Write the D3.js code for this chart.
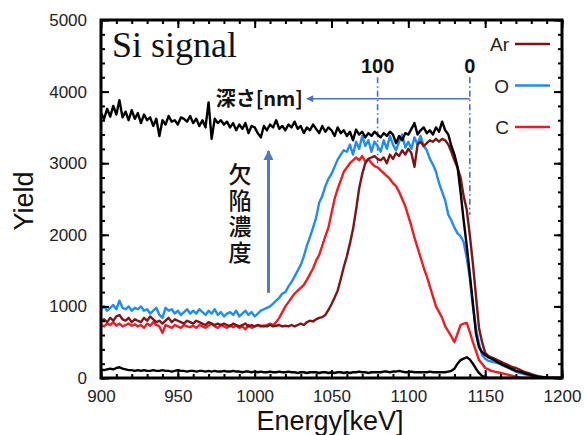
<!DOCTYPE html>
<html><head><meta charset="utf-8">
<script src="https://cdn.jsdelivr.net/npm/d3@7/dist/d3.min.js"></script>
<style>body{margin:0;background:#fff}svg{display:block}</style>
</head><body><svg id="c" width="584" height="435"></svg>
<script>
// Energy sampling (keV), 2 keV step
const energy = d3.range(900, 1201, 2);

// Si signal, upper black spectrum
const black = [
3700,3620,3760,3650,3800,3680,3880,3640,3720,3600,
3740,3620,3700,3560,3680,3600,3640,3520,3620,3380,
3600,3540,3660,3580,3600,3540,3640,3620,3580,3660,
3560,3620,3520,3600,3500,3850,3340,3620,3560,3600,
3540,3580,3500,3560,3460,3540,3480,3560,3420,3520,
3500,3420,3360,3520,3460,3540,3500,3600,3480,3520,
3460,3540,3500,3580,3480,3520,3420,3500,3460,3540,
3480,3420,3520,3440,3500,3460,3380,3500,3420,3460,
3380,3440,3320,3470,3400,3440,3360,3420,3380,3440,
3400,3360,3420,3380,3440,3400,3280,3380,3320,3420,
3400,3480,3560,3400,3460,3500,3420,3460,3400,3500,
3440,3580,3460,3400,3240,3120,2950,2600,2200,1850,
1450,1050,620,430,360,320,290,270,250,220,
200,180,160,140,120,100,90,80,60,50,
40,30,20,15,10,5,0,0,0,0,
0];

// lower black spectrum
const blackLow = [
120,110,120,130,120,140,150,130,120,110,
110,100,110,100,110,100,100,110,100,100,
110,100,100,90,100,110,100,100,90,100,
100,90,100,100,90,100,90,100,90,90,
100,90,90,100,90,90,80,90,90,80,
90,80,90,80,80,90,80,80,90,80,
80,90,80,80,70,80,80,70,80,80,
80,70,80,80,70,80,70,80,80,70,
80,70,80,80,90,80,80,70,80,80,
80,80,90,90,80,90,90,100,90,80,
80,90,80,80,80,80,80,90,80,80,
80,80,80,90,100,130,200,250,270,290,
260,200,130,70,30,10,0,0,0,0,
0,0,0,0,0,0,0,0,0,0,
0,0,0,0,0,0,0,0,0,0,
0];

// O
const oxygen = [
960,1000,940,980,1020,960,1080,980,960,1000,
940,980,960,1000,940,960,900,940,980,880,
840,980,940,960,900,940,880,920,960,900,
940,900,960,920,880,940,900,960,880,920,
860,900,920,880,940,860,900,940,880,920,
860,900,940,960,980,1000,1040,1080,1120,1180,
1200,1280,1340,1420,1500,1580,1700,1850,1970,2100,
2240,2450,2540,2680,2780,2850,2950,3050,3120,3180,
3160,3260,3120,3300,3200,3380,3240,3320,3160,3300,
3240,3160,3320,3200,3380,3260,3180,3300,3400,3220,
3300,3200,3360,3260,3380,3240,3180,3060,2980,2880,
2720,2600,2480,2280,2200,2100,2020,1980,1900,1680,
1400,1000,700,480,320,270,240,230,220,210,
190,170,150,130,110,90,70,60,50,40,
30,20,10,5,0,0,0,0,0,0,
0];

// C
const carbon = [
740,720,760,740,780,730,760,720,740,760,
730,750,720,740,700,760,730,780,740,720,
630,740,720,700,740,720,700,740,720,710,
730,700,740,720,700,730,760,720,700,740,
720,700,740,710,730,700,720,680,740,700,
720,740,730,720,740,760,740,780,840,920,
1000,1060,1120,1180,1220,1260,1300,1370,1450,1530,
1640,1720,1850,1980,2100,2300,2500,2640,2760,2880,
2940,3000,3040,3080,3040,3100,3020,3060,3000,2960,
2940,2900,2860,2820,2780,2720,2680,2600,2500,2400,
2260,2120,1960,1820,1680,1540,1420,1280,1140,1000,
920,840,720,650,580,500,620,740,760,770,
640,500,380,250,200,140,120,100,90,80,
70,60,50,40,30,20,10,0,0,0,
0,0,0,0,0,0,0,0,0,0,
0];

// Ar
const argon = [
800,820,780,840,800,860,880,820,800,840,
780,820,800,780,840,800,860,820,780,800,
760,800,840,780,820,800,780,760,800,780,
760,800,780,760,740,780,760,740,760,740,
760,740,720,760,740,720,740,760,720,740,
720,740,720,730,720,740,720,730,740,720,
730,720,740,720,740,760,740,780,800,790,
820,840,850,880,950,1030,1120,1220,1380,1550,
1700,1880,2080,2350,2650,2850,3000,3060,3080,3100,
3060,3040,3080,3000,3120,3060,3140,3100,3180,3120,
3200,3140,2950,3260,3300,3240,3280,3320,3300,3340,
3300,3340,3320,3260,3160,3040,2940,2800,2540,2350,
2000,1600,1150,700,500,350,310,290,270,250,
230,210,190,170,150,140,120,100,80,70,
55,40,30,20,10,5,0,0,0,0,
0];

const xMajor = [900,950,1000,1050,1100,1150,1200];
const xMinor = d3.range(900, 1201, 10);
const yMajor = [0,1000,2000,3000,4000,5000];
const yMinor = d3.range(0, 5001, 200);

const legendItems = [
  {name:"Ar", color:"#7d1517"},
  {name:"O",  color:"#1f8cf5"},
  {name:"C",  color:"#ee1d23"}
];

// depth markers (keV)
const depthMarks = [{label:"100", e:1080, bottom:3000}, {label:"0", e:1140, bottom:2280}];
const depthArrow = {from:1140, to:1034, y:3900};
const defectArrow = {e:1009, from:1190, to:3170};

const svg = d3.select("#c");
const L=101, R=562, T=20, B=378;
const x = d3.scaleLinear().domain([900,1200]).range([L,R]);
const y = d3.scaleLinear().domain([0,5000]).range([B,T]);

const defs = svg.append("defs");
defs.append("clipPath").attr("id","clip")
  .append("rect").attr("x",L).attr("y",T).attr("width",R-L).attr("height",B-T);
defs.append("marker").attr("id","ah").attr("viewBox","0 0 10 10").attr("refX",9).attr("refY",5)
  .attr("markerWidth",9).attr("markerHeight",7).attr("markerUnits","userSpaceOnUse").attr("orient","auto")
  .append("path").attr("d","M0,0L10,5L0,10Z").attr("fill","#4472c4");
defs.append("marker").attr("id","ah2").attr("viewBox","0 0 10 10").attr("refX",9).attr("refY",5)
  .attr("markerWidth",14).attr("markerHeight",10).attr("markerUnits","userSpaceOnUse").attr("orient","auto")
  .append("path").attr("d","M0,0L10,5L0,10Z").attr("fill","#4a7cc4");

// depth dash-dot lines
depthMarks.forEach(d=>{
  svg.append("line").attr("x1",x(d.e)).attr("x2",x(d.e)).attr("y1",y(4200)).attr("y2",y(d.bottom))
    .attr("stroke","#4a6fb5").attr("stroke-width",1.6).attr("stroke-dasharray","6,3,1.5,3");
  svg.append("text").attr("x",x(d.e)).attr("y",73).attr("text-anchor","middle")
    .attr("font-family","Liberation Sans, Arial, sans-serif").attr("font-weight","bold").attr("font-size",20)
    .attr("fill","#111").text(d.label);
});

// lines
const line = d3.line().x((d,i)=>x(energy[i])).y(d=>y(d));
const g = svg.append("g").attr("clip-path","url(#clip)");
const series = [
  {v:blackLow, c:"#000"},
  {v:oxygen, c:"#1f8cf5"},
  {v:carbon, c:"#ee1d23"},
  {v:argon, c:"#7d1517"},
  {v:black, c:"#000"}
];
series.forEach(s=>{
  g.append("path").attr("d",line(s.v)).attr("fill","none").attr("stroke",s.c)
    .attr("stroke-width",2.4).attr("stroke-linejoin","round");
});

// depth arrow
svg.append("line").attr("x1",x(depthArrow.from)).attr("x2",x(depthArrow.to))
  .attr("y1",y(depthArrow.y)).attr("y2",y(depthArrow.y))
  .attr("stroke","#4472c4").attr("stroke-width",1.6).attr("marker-end","url(#ah)");
svg.append("text").attr("x",x(depthArrow.to)-4).attr("y",y(depthArrow.y)+7).attr("text-anchor","end")
  .attr("font-family","Noto Sans CJK JP, sans-serif").attr("font-weight","bold").attr("font-size",20)
  .attr("fill","#111").text("深さ[nm]");

// defect arrow
svg.append("line").attr("x1",x(defectArrow.e)).attr("x2",x(defectArrow.e))
  .attr("y1",y(defectArrow.from)).attr("y2",y(defectArrow.to))
  .attr("stroke","#4a7cc4").attr("stroke-width",3).attr("marker-end","url(#ah2)");
svg.append("text").attr("x",240).attr("y",163)
  .style("writing-mode","vertical-rl").style("letter-spacing","3px")
  .attr("font-family","Noto Sans CJK JP, sans-serif").attr("font-size",23).attr("font-weight","500")
  .attr("fill","#111").text("欠陥濃度");

// Title
svg.append("text").attr("x",112).attr("y",57).attr("font-family","Liberation Serif, Times New Roman, serif")
  .attr("font-size",36).attr("fill","#111").text("Si signal");

// legend
legendItems.forEach((d,i)=>{
  const yy = 44 + i*41.5;
  svg.append("text").attr("x",509).attr("y",yy+7).attr("text-anchor","end")
    .attr("font-family","Liberation Sans, Arial, sans-serif").attr("font-size",19).attr("fill","#222").text(d.name);
  svg.append("line").attr("x1",515).attr("x2",550).attr("y1",yy).attr("y2",yy)
    .attr("stroke",d.color).attr("stroke-width",2.6);
});

// axes ticks (inward, mirrored)
function axisG(axis){
  const a = svg.append("g").call(axis);
  a.select(".domain").remove();
  a.selectAll("line").attr("stroke","#000").attr("stroke-width",2);
  a.selectAll("text").attr("font-family","Liberation Sans, Arial, sans-serif").attr("font-size",17).attr("fill","#222");
  return a;
}
axisG(d3.axisBottom(x).tickValues(xMinor).tickSize(-4).tickFormat("")).attr("transform",`translate(0,${B})`);
axisG(d3.axisTop(x).tickValues(xMinor).tickSize(-4).tickFormat("")).attr("transform",`translate(0,${T})`);
axisG(d3.axisLeft(y).tickValues(yMinor).tickSize(-4).tickFormat("")).attr("transform",`translate(${L},0)`);
axisG(d3.axisRight(y).tickValues(yMinor).tickSize(-4).tickFormat("")).attr("transform",`translate(${R},0)`);
axisG(d3.axisBottom(x).tickValues(xMajor).tickSize(-8).tickPadding(12).tickFormat(d3.format("d"))).attr("transform",`translate(0,${B})`);
axisG(d3.axisTop(x).tickValues(xMajor).tickSize(-8).tickFormat("")).attr("transform",`translate(0,${T})`);
axisG(d3.axisLeft(y).tickValues(yMajor).tickSize(-8).tickPadding(14).tickFormat(d3.format("d"))).attr("transform",`translate(${L},0)`);
axisG(d3.axisRight(y).tickValues(yMajor).tickSize(-8).tickFormat("")).attr("transform",`translate(${R},0)`);

// frame
svg.append("rect").attr("x",L).attr("y",T).attr("width",R-L).attr("height",B-T)
  .attr("fill","none").attr("stroke","#000").attr("stroke-width",3);

// axis titles
svg.append("text").attr("x",330).attr("y",430).attr("text-anchor","middle")
  .attr("font-family","Liberation Sans, Arial, sans-serif").attr("font-size",27).attr("fill","#111").text("Energy[keV]");
svg.append("text").attr("transform","translate(33,201) rotate(-90)").attr("text-anchor","middle")
  .attr("font-family","Liberation Sans, Arial, sans-serif").attr("font-size",27).attr("fill","#111").text("Yield");
</script></body></html>
